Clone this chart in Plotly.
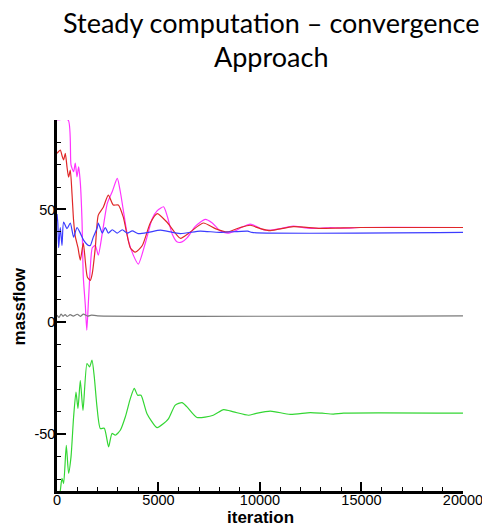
import plotly.graph_objects as go

# ---------------- data ----------------
magenta_x = [0, 550, 690, 818, 901, 985, 1064, 1148, 1232, 1296, 1394, 1468, 1542, 1640, 1739,
             1887, 2034, 2232, 2478, 2724, 2970, 3118, 3266, 3512, 3759, 4005, 4350, 4694, 4941,
             5251, 5433, 5680, 5926, 6158, 6419, 6813, 7305, 7650, 8044, 8389, 8783, 9128, 9522,
             9817, 10162, 10507, 11000, 11640, 12231, 12970, 13463, 14162, 14940, 20000]
magenta_y = [89.8, 89.8, 69.8, 66.8, 70.6, 64.5, 69.0, 62.0, 45.0, 20.0, 7.5, -3.7, 8.0, 24.0, 33.0,
             34.0, 29.7, 39.5, 52.7, 58.0, 63.8, 58.0, 49.7, 36.4, 29.7, 25.7, 35.0, 46.0, 49.5,
             51.2, 47.0, 39.0, 35.5, 35.6, 37.5, 42.5, 45.6, 44.0, 40.5, 39.5, 40.5, 42.2, 43.5,
             42.5, 41.0, 40.8, 41.5, 42.6, 41.8, 41.6, 42.0, 41.7, 42.0, 42.0]

red_x = [0, 163, 246, 325, 409, 493, 571, 655, 739, 818, 901, 1034, 1148, 1296, 1493, 1640, 1739,
         1887, 2034, 2281, 2527, 2773, 3020, 3266, 3611, 3857, 4202, 4596, 4941, 5433, 6074, 6566,
         7207, 7798, 8389, 9029, 9522, 10014, 10507, 11640, 12970, 14940, 20000]
red_y = [75.0, 76.4, 74.0, 72.0, 75.0, 68.9, 64.4, 67.5, 57.0, 45.0, 38.0, 33.0, 27.5, 35.0, 20.0,
         18.5, 21.6, 33.0, 47.5, 51.0, 56.4, 52.0, 52.0, 46.6, 33.0, 31.0, 34.0, 44.0, 48.2, 44.2,
         37.2, 40.0, 44.0, 41.5, 40.0, 42.0, 43.0, 41.5, 40.6, 42.4, 41.6, 42.0, 42.0]

blue_x = [0, 40, 80, 113, 163, 246, 325, 493, 655, 818, 985, 1148, 1310, 1557, 1640, 1788, 1985,
          2034, 2232, 2379, 2527, 2724, 2970, 3217, 3463, 3709, 4000, 4500, 5100, 6074, 7059,
          8000, 9400, 9600, 20000]
blue_y = [48.0, 44.0, 33.0, 36.4, 42.0, 34.0, 44.4, 41.5, 44.0, 37.7, 42.0, 39.5, 36.4, 34.0, 34.0,
          37.7, 42.0, 44.0, 39.5, 42.0, 39.5, 41.0, 39.5, 41.0, 39.5, 40.5, 39.3, 39.8, 40.8, 39.3,
          40.4, 39.8, 40.4, 39.8, 39.8]

grey_x = [0, 100, 200, 300, 400, 500, 650, 800, 1000, 1150, 1300, 1500, 1700, 2000, 20000]
grey_y = [3.0, 2.0, 3.5, 2.5, 3.3, 2.4, 3.2, 2.6, 3.4, 2.5, 3.5, 2.6, 3.0, 2.7, 2.7]

green_x = [100, 163, 246, 325, 458, 571, 690, 818, 936, 1034, 1148, 1281, 1478, 1606, 1724, 1837,
           1970, 2133, 2330, 2542, 2709, 2872, 3118, 3364, 3611, 3808, 3970, 4138, 4433, 4926,
           5251, 5497, 5827, 6158, 6404, 6896, 7699, 8207, 8700, 9438, 9768, 10507, 11492, 12477,
           13054, 13611, 14118, 20000]
green_y = [-78.0, -75.0, -69.6, -71.9, -54.9, -67.3, -60.0, -42.3, -31.2, -38.5, -26.0, -39.3, -18.5,
           -20.0, -17.0, -24.5, -37.8, -47.4, -47.3, -55.6, -49.6, -50.4, -48.2, -42.3, -34.1,
           -29.6, -32.6, -32.6, -40.8, -47.0, -45.2, -43.0, -37.0, -35.9, -37.8, -42.5, -41.5,
           -39.0, -40.0, -41.5, -40.8, -39.7, -41.1, -40.3, -40.6, -41.0, -40.6, -40.6]

x_range = [0, 20001]
y_range = [-75.2, 89.8]
x_ticks = [0, 5000, 10000, 15000, 20000]
y_ticks = [-50, 0, 50]

title_line1 = "Steady computation \u2013 convergence"
title_line2 = "Approach"
x_label = "iteration"
y_label = "massflow"

# ---------------- figure ----------------
fig = go.Figure()
series = [
    (magenta_x, magenta_y, "#FF33FF"),
    (red_x, red_y, "#E02828"),
    (blue_x, blue_y, "#3C3CFF"),
    (grey_x, grey_y, "#7A7A7A"),
    (green_x, green_y, "#33D633"),
]
for xs, ys, col in series:
    fig.add_trace(go.Scatter(x=xs, y=ys, mode="lines",
                             line=dict(color=col, width=1.2, shape="spline", smoothing=0.6),
                             showlegend=False, hoverinfo="skip"))

axis_common = dict(
    showgrid=False, zeroline=False, showline=True, linecolor="black", linewidth=2.5,
    ticks="inside", ticklen=9, tickwidth=2, tickcolor="black",
    tickfont=dict(family="Liberation Sans, Arial", size=14.5, color="black"),
    ticklabeloverflow="allow", automargin=False,
    mirror=False,
)
fig.update_xaxes(range=x_range, tickvals=x_ticks, ticktext=[str(v) for v in x_ticks],
                 ticklabelstandoff=-6,
                 minor=dict(dtick=1000, tick0=0, ticks="inside", ticklen=4, tickwidth=1,
                            tickcolor="black", showgrid=False),
                 **axis_common)
fig.update_yaxes(range=y_range, tickvals=y_ticks, ticktext=[str(v) for v in y_ticks],
                 ticklabelstandoff=-4,
                 minor=dict(dtick=10, tick0=0, ticks="inside", ticklen=4, tickwidth=1,
                            tickcolor="black", showgrid=False),
                 **axis_common)

plot_top, plot_bottom, plot_left, plot_right = 120, 490.7, 56.7, 462.7
ph = plot_bottom - plot_top
pw = plot_right - plot_left

def py(ypx):
    return (plot_bottom - ypx) / ph

def px(xpx):
    return (xpx - plot_left) / pw

title_font = dict(family="Lato, Open Sans, sans-serif", size=27, color="black")
fig.add_annotation(text=title_line1, x=px(271), y=py(23), xref="paper", yref="paper",
                   showarrow=False, xanchor="center", yanchor="middle", font=title_font)
fig.add_annotation(text=title_line2, x=px(271), y=py(57), xref="paper", yref="paper",
                   showarrow=False, xanchor="center", yanchor="middle", font=title_font)

label_font = dict(family="Liberation Sans, Arial", size=17, color="black")
fig.add_annotation(text="<b>" + y_label + "</b>", x=px(19), y=py(306), xref="paper", yref="paper",
                   showarrow=False, textangle=-90, xanchor="center", yanchor="middle",
                   font=label_font)
fig.add_annotation(text="<b>" + x_label + "</b>", x=px(260), y=py(517), xref="paper", yref="paper",
                   showarrow=False, xanchor="center", yanchor="middle", font=label_font)

fig.update_layout(
    width=482, height=528,
    margin=dict(l=plot_left, r=482 - plot_right, t=plot_top, b=528 - plot_bottom, pad=0,
                autoexpand=False),
    paper_bgcolor="white", plot_bgcolor="white",
    showlegend=False,
)

fig.write_html("out.html")
